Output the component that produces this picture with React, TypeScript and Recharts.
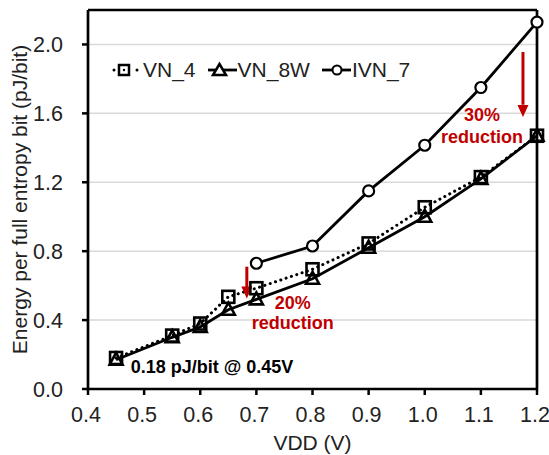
import React from 'react';
import {
  LineChart,
  Line,
  XAxis,
  YAxis,
  CartesianGrid,
  ReferenceLine,
  ReferenceDot,
  Legend,
} from 'recharts';

const vdd = [0.45, 0.55, 0.6, 0.65, 0.7, 0.8, 0.9, 1.0, 1.1, 1.2];
const vn4 = [0.18, 0.31, 0.38, 0.535, 0.585, 0.695, 0.845, 1.055, 1.23, 1.47];
const vn8w = [0.17, 0.3, 0.36, 0.46, 0.52, 0.64, 0.82, 1.0, 1.22, 1.47];
const ivn7 = [null, null, null, null, 0.73, 0.83, 1.15, 1.415, 1.75, 2.13];

const xTicks = [0.4, 0.5, 0.6, 0.7, 0.8, 0.9, 1.0, 1.1, 1.2];
const yTicks = [0, 0.4, 0.8, 1.2, 1.6, 2.0];

const data = vdd.map((v, i) => ({ vdd: v, vn4: vn4[i], vn8w: vn8w[i], ivn7: ivn7[i] }));

const FONT = '"Liberation Sans", Arial, Helvetica, sans-serif';
const RED = '#c00000';

const Square = ({ cx, cy }: any) =>
  cx == null || cy == null ? <g /> : (
    <rect x={cx - 6} y={cy - 6} width={12} height={12} fill="none" stroke="#000" strokeWidth={2.6} />
  );

const Triangle = ({ cx, cy }: any) =>
  cx == null || cy == null ? <g /> : (
    <polygon
      points={`${cx},${cy - 7} ${cx - 6.5},${cy + 5} ${cx + 6.5},${cy + 5}`}
      fill="none"
      stroke="#000"
      strokeWidth={2.6}
    />
  );

const Circle = ({ cx, cy }: any) =>
  cx == null || cy == null ? <g /> : (
    <circle cx={cx} cy={cy} r={5.5} fill="#fff" stroke="#000" strokeWidth={2.2} />
  );

const legendItems = [
  { name: 'VN_4', kind: 'square' },
  { name: 'VN_8W', kind: 'triangle' },
  { name: 'IVN_7', kind: 'circle' },
];

function LegendIcon({ kind }: { kind: string }) {
  if (kind === 'square') {
    return (
      <svg width={30} height={22} style={{ display: 'block' }}>
        <circle cx={2} cy={11} r={1.5} fill="#000" />
        <rect x={7} y={6} width={10} height={10} fill="#fff" stroke="#000" strokeWidth={2.5} />
        <circle cx={12} cy={11} r={1.2} fill="#000" />
        <circle cx={25} cy={11} r={1.5} fill="#000" />
      </svg>
    );
  }
  return (
    <svg width={31} height={22} style={{ display: 'block' }}>
      <line x1={1} x2={30} y1={11} y2={11} stroke="#000" strokeWidth={2.8} />
      {kind === 'triangle' && (
        <polygon points="12.5,5 6,16 19,16" fill="#fff" stroke="#000" strokeWidth={2.5} />
      )}
      {kind === 'circle' && <circle cx={16} cy={11} r={4.5} fill="#fff" stroke="#000" strokeWidth={2} />}
    </svg>
  );
}

const renderLegend = () => (
  <div style={{ display: 'flex', alignItems: 'center', fontFamily: FONT, fontSize: 21, color: '#222' }}>
    {legendItems.map((it) => (
      <div key={it.name} style={{ display: 'flex', alignItems: 'center', marginRight: 11 }}>
        <LegendIcon kind={it.kind} />
        <span style={{ lineHeight: '22px', marginLeft: it.kind === 'square' ? 1 : 0 }}>{it.name}</span>
      </div>
    ))}
  </div>
);

const YLabel = ({ viewBox }: any) => {
  const cx = viewBox.x + 19.5;
  const cy = viewBox.y + viewBox.height / 2;
  return (
    <text
      x={cx}
      y={cy}
      transform={`rotate(-90 ${cx} ${cy})`}
      textAnchor="middle"
      dominantBaseline="central"
      fontFamily={FONT}
      fontSize={21}
      fill="#222"
    >
      Energy per full entropy bit (pJ/bit)
    </text>
  );
};

const XLabel = ({ viewBox }: any) => (
  <text
    x={viewBox.x + viewBox.width / 2}
    y={viewBox.y + 61}
    textAnchor="middle"
    fontFamily={FONT}
    fontSize={21}
    fill="#222"
  >
    VDD (V)
  </text>
);

const note = (text: string, color: string, anchor: 'middle' | 'start') => (p: any) => (
  <text
    x={p.cx}
    y={p.cy}
    textAnchor={anchor}
    dominantBaseline="central"
    fontFamily={FONT}
    fontSize={18}
    fontWeight="bold"
    fill={color}
  >
    {text}
  </text>
);

const arrowHead = (p: any) => (
  <polygon points={`${p.cx},${p.cy} ${p.cx - 5.5},${p.cy - 12} ${p.cx + 5.5},${p.cy - 12}`} fill={RED} />
);

export default function App() {
  return (
    <div style={{ position: 'absolute', left: 0, top: 0, width: 549, height: 455, background: '#fff' }}>
      <LineChart width={549} height={455} data={data} margin={{ top: 10, right: 12, left: 0, bottom: 0 }}>
        <CartesianGrid vertical={false} stroke="#d9d9d9" strokeWidth={1.5} />
        <XAxis
          dataKey="vdd"
          type="number"
          domain={[0.4, 1.2]}
          ticks={xTicks}
          tickFormatter={(v: number) => v.toFixed(1)}
          height={66}
          axisLine={{ stroke: '#000', strokeWidth: 2.7 }}
          tickLine={{ stroke: '#000', strokeWidth: 2.5 }}
          tickSize={6}
          tickMargin={12}
          tick={{ fill: '#222', fontSize: 21.5, fontFamily: FONT, dx: -2 }}
          interval={0}
          label={XLabel}
        />
        <YAxis
          type="number"
          domain={[0, 2.2]}
          ticks={yTicks}
          tickFormatter={(v: number) => v.toFixed(1)}
          width={88}
          axisLine={{ stroke: '#000', strokeWidth: 2.7 }}
          tickLine={{ stroke: '#000', strokeWidth: 2.5 }}
          tickSize={6}
          tickMargin={19}
          tick={{ fill: '#222', fontSize: 21.5, fontFamily: FONT }}
          interval={0}
          label={YLabel}
        />
        <ReferenceLine y={2.2} stroke="#000" strokeWidth={2.7} />
        <ReferenceLine x={1.2} stroke="#000" strokeWidth={2.7} />
        <Legend
          content={renderLegend}
          layout="horizontal"
          verticalAlign="middle"
          align="center"
          wrapperStyle={{ left: 112, top: 59, width: 340 }}
        />
        <Line
          dataKey="vn4"
          name="VN_4"
          stroke="#000"
          strokeWidth={3}
          strokeDasharray="0.1 5.5"
          strokeLinecap="round"
          dot={Square}
          isAnimationActive={false}
        />
        <Line
          dataKey="vn8w"
          name="VN_8W"
          stroke="#000"
          strokeWidth={2.8}
          dot={Triangle}
          isAnimationActive={false}
        />
        <Line
          dataKey="ivn7"
          name="IVN_7"
          stroke="#000"
          strokeWidth={2.8}
          dot={Circle}
          connectNulls={false}
          isAnimationActive={false}
        />
        <ReferenceLine
          segment={[{ x: 1.175, y: 1.956 }, { x: 1.175, y: 1.65 }]}
          stroke={RED}
          strokeWidth={3}
        />
        <ReferenceDot x={1.175} y={1.579} shape={arrowHead} />
        <ReferenceLine
          segment={[{ x: 0.683, y: 0.71 }, { x: 0.683, y: 0.59 }]}
          stroke={RED}
          strokeWidth={3}
        />
        <ReferenceDot x={0.683} y={0.526} shape={arrowHead} />
        <ReferenceDot x={1.102} y={1.59} shape={note('30%', RED, 'middle')} />
        <ReferenceDot x={1.102} y={1.463} shape={note('reduction', RED, 'middle')} />
        <ReferenceDot x={0.765} y={0.501} shape={note('20%', RED, 'middle')} />
        <ReferenceDot x={0.765} y={0.381} shape={note('reduction', RED, 'middle')} />
        <ReferenceDot x={0.476} y={0.125} shape={note('0.18 pJ/bit @ 0.45V', '#000', 'start')} />
      </LineChart>
    </div>
  );
}
